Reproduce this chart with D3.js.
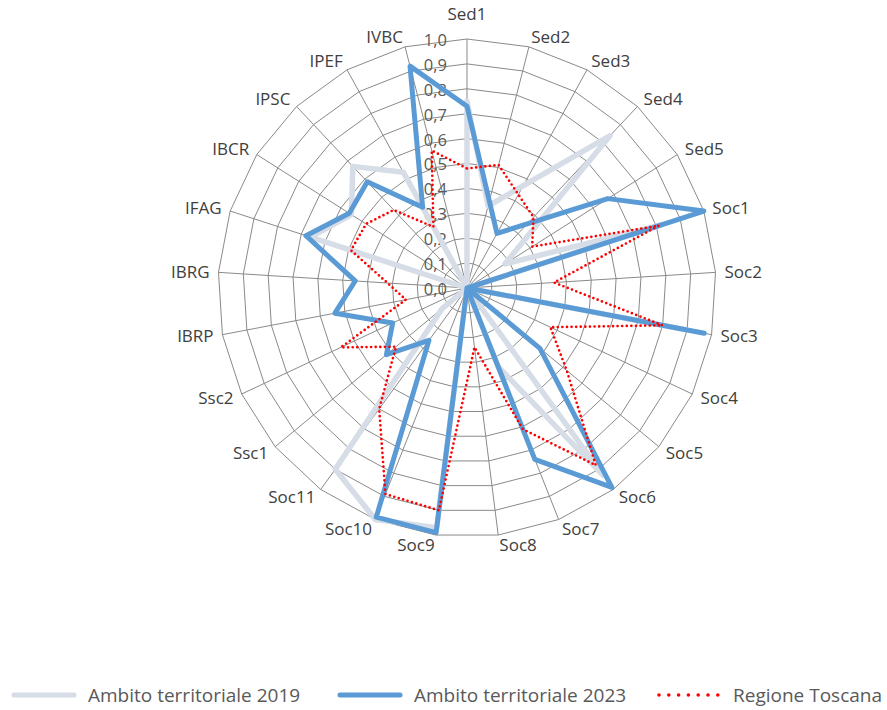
<!DOCTYPE html>
<html>
<head>
<meta charset="utf-8">
<script src="https://cdn.jsdelivr.net/npm/d3@7"></script>
<style>
  body { margin: 0; background: #fff; }
  svg { display: block; font-family: 'Open Sans', sans-serif; }
</style>
</head>
<body>
<script>
// categories, clockwise from the top
const categories = ['Sed1', 'Sed2', 'Sed3', 'Sed4', 'Sed5', 'Soc1', 'Soc2', 'Soc3', 'Soc4', 'Soc5',
  'Soc6', 'Soc7', 'Soc8', 'Soc9', 'Soc10', 'Soc11', 'Ssc1', 'Ssc2', 'IBRP', 'IBRG',
  'IFAG', 'IBCR', 'IPSC', 'IPEF', 'IVBC'];

// null = no value, the line joins the neighbours
const ambito2019 = [0.75, 0.34, null, 0.84, 0.18, 0.82, 0, 0.9, 0, 0,
  0.93, 0.34, 0, 0.97, 1.0, 0.90, 0.13, 0, 0, 0,
  0.66, 0.55, 0.67, 0.53, 0];
const ambito2023 = [0.73, null, 0.25, null, 0.67, 1.0, 0, 0.97, 0, 0.38,
  0.99, 0.74, 0, 0.99, 0.99, 0.26, 0.42, 0.33, 0.54, 0.45,
  0.68, 0.56, 0.585, 0.37, 0.92];
const toscana = [0.48, 0.51, null, 0.39, 0.31, 0.81, 0.35, 0.80, 0.37, 0.52,
  0.88, 0.61, 0.24, 0.90, 0.89, 0.60, 0.37, 0.56, 0.25, 0.32,
  0.49, 0.48, 0.43, 0.28, 0.57];

const tickValues = [0, 0.1, 0.2, 0.3, 0.4, 0.5, 0.6, 0.7, 0.8, 0.9, 1.0];
const tickLabels = ['0,0', '0,1', '0,2', '0,3', '0,4', '0,5', '0,6', '0,7', '0,8', '0,9', '1,0'];

const seriesNames = ['Ambito territoriale 2019', 'Ambito territoriale 2023', 'Regione Toscana'];

const w = 887, h = 710;
const cx = 467, cy = 288, R = 249;

const svg = d3.select('body').append('svg')
  .attr('width', w)
  .attr('height', h);

const r = d3.scaleLinear().domain([0, 1]).range([0, R]);
const angle = d3.scaleLinear().domain([0, categories.length]).range([0, 2 * Math.PI]);
const px = (i, v) => r(v) * Math.sin(angle(i));
const py = (i, v) => -r(v) * Math.cos(angle(i));

const g = svg.append('g').attr('transform', `translate(${cx},${cy})`);

// grid polygons
g.append('g').selectAll('polygon')
  .data(tickValues.slice(1))
  .enter().append('polygon')
  .attr('points', v => categories.map((c, i) => `${px(i, v)},${py(i, v)}`).join(' '))
  .attr('fill', 'none')
  .attr('stroke', '#8a8a8a')
  .attr('stroke-width', 1);

// spokes
g.append('g').selectAll('line')
  .data(categories)
  .enter().append('line')
  .attr('x1', 0).attr('y1', 0)
  .attr('x2', (d, i) => px(i, 1))
  .attr('y2', (d, i) => py(i, 1))
  .attr('stroke', '#8a8a8a')
  .attr('stroke-width', 1);

// tick labels along Sed1 axis
g.append('g').selectAll('text')
  .data(tickValues)
  .enter().append('text')
  .attr('x', -20)
  .attr('y', v => py(0, v))
  .attr('dy', '0.42em')
  .attr('text-anchor', 'end')
  .attr('font-size', 16.5)
  .attr('fill', '#595959')
  .text((v, i) => tickLabels[i]);

// category labels
g.append('g').selectAll('text')
  .data(categories)
  .enter().append('text')
  .attr('x', (d, i) => px(i, 1) + 9 * Math.sin(angle(i)))
  .attr('y', (d, i) => i === 0 ? py(i, 1) - 25 : py(i, 1) - 10 * Math.cos(angle(i)))
  .attr('dy', '0.35em')
  .attr('text-anchor', (d, i) => {
    const s = Math.sin(angle(i));
    return Math.abs(s) < 0.05 ? 'middle' : (s > 0 ? 'start' : 'end');
  })
  .attr('font-size', 17)
  .attr('fill', '#404040')
  .text(d => d);

const line = d3.line()
  .x(d => px(d.i, d.v))
  .y(d => py(d.i, d.v))
  .curve(d3.curveLinearClosed);

const series = [
  { name: seriesNames[0], values: ambito2019, color: '#d6dde6', width: 5.5, dash: null },
  { name: seriesNames[1], values: ambito2023, color: '#5b9bd5', width: 5, dash: null },
  { name: seriesNames[2], values: toscana, color: '#ff0000', width: 2.7, dash: '0,4.6' }
];

series.forEach(s => {
  const pts = s.values.map((v, i) => ({ i, v })).filter(d => d.v !== null);
  g.append('path')
    .attr('d', line(pts))
    .attr('fill', 'none')
    .attr('stroke', s.color)
    .attr('stroke-width', s.width)
    .attr('stroke-linejoin', 'round')
    .attr('stroke-linecap', 'round')
    .attr('stroke-dasharray', s.dash);
});

// legend
const legendX = [12, 338, 657];
const legend = svg.append('g').selectAll('g')
  .data(series)
  .enter().append('g')
  .attr('transform', (d, i) => `translate(${legendX[i]},695)`);

legend.append('line')
  .attr('x1', 2)
  .attr('x2', d => d.dash ? 61 : 62)
  .attr('stroke', d => d.color)
  .attr('stroke-width', d => d.dash ? 3.6 : 5)
  .attr('stroke-linecap', 'round')
  .attr('stroke-dasharray', d => d.dash ? '0,9.8' : null);

legend.append('text')
  .attr('x', 76)
  .attr('dy', '0.35em')
  .attr('font-size', 19)
  .attr('fill', '#595959')
  .text(d => d.name);
</script>
</body>
</html>
